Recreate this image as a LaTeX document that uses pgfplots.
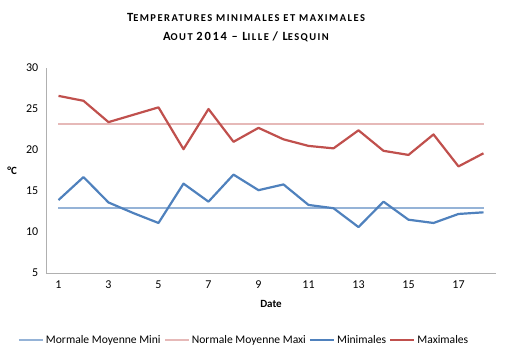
\documentclass[border=0pt]{standalone}
\usepackage{pgfplots}
\pgfplotsset{compat=1.18}
\usepackage{fontspec}
\setmainfont{Carlito}
\newfontfamily\titlefont[LetterSpace=14]{Carlito}
\definecolor{nmin}{HTML}{95B3D7}
\definecolor{nmax}{HTML}{E6B9B8}
\definecolor{cmin}{HTML}{4F81BD}
\definecolor{cmax}{HTML}{C0504D}
\definecolor{axgray}{HTML}{B0B0B0}
\newcommand{\bg}[1]{{\fontsize{12.5pt}{13pt}\selectfont #1}}
\newcommand{\sm}[1]{{\fontsize{10.5pt}{13pt}\selectfont #1}}
\begin{document}
\begin{tikzpicture}[x=1pt,y=1pt]
\useasboundingbox (-46,-81) rectangle (463,273);
\begin{axis}[
  at={(0,0)}, anchor=south west,
  scale only axis, width=450pt, height=205pt,
  xmin=0.5, xmax=18.5, ymin=5, ymax=30,
  axis x line=bottom, axis y line=left,
  axis line style={-, axgray, line width=0.8pt},
  xtick={1,3,...,17}, ytick={5,10,...,30},
  xtick style={draw=none}, ytick style={draw=none},
  minor xtick={0.5,1.5,...,18.5},
  minor x tick style={axgray, line width=0.8pt},
  minor tick length=5pt, tick align=outside,
  tick label style={font=\fontsize{12pt}{14pt}\selectfont},
  /pgf/number format/assume math mode=true,
  xlabel={\textbf{Date}},
  xlabel style={at={(axis description cs:0.5,0)}, anchor=north, yshift=-24pt, font=\fontsize{11pt}{12pt}\selectfont},
  ylabel={\textbf{°C}},
  ylabel style={rotate=-90, at={(axis description cs:-0.075,0.5)}, anchor=center, font=\fontsize{11pt}{12pt}\selectfont},
  legend columns=4,
  legend style={at={(0.44,-0.327)}, anchor=center, draw=none, fill=none,
    font=\fontsize{11.6pt}{14pt}\selectfont, nodes={inner xsep=2pt},
    /tikz/every even column/.append style={column sep=1pt}},
  legend image code/.code={\draw[#1] (0pt,0pt) -- (24pt,0pt);},
  every axis plot/.append style={line width=2.2pt, mark=none, line join=round},
]
\addplot[nmin] coordinates {(1,12.9) (18,12.9)};
\addlegendentry{Mormale Moyenne Mini}
\addplot[nmax] coordinates {(1,23.2) (18,23.2)};
\addlegendentry{Normale Moyenne Maxi}
\addplot[cmin] coordinates {
(1,13.9) (2,16.7) (3,13.6) (4,12.3) (5,11.1) (6,15.9) (7,13.7) (8,17.0) (9,15.1)
(10,15.8) (11,13.3) (12,12.9) (13,10.6) (14,13.7) (15,11.5) (16,11.1) (17,12.2) (18,12.4)};
\addlegendentry{Minimales}
\addplot[cmax] coordinates {
(1,26.6) (2,26.0) (3,23.4) (4,24.3) (5,25.2) (6,20.1) (7,25.0) (8,21.0) (9,22.7)
(10,21.3) (11,20.5) (12,20.2) (13,22.4) (14,19.9) (15,19.4) (16,21.9) (17,18.0) (18,19.6)};
\addlegendentry{Maximales}
\end{axis}
\node[font=\titlefont\bfseries] at (200,256) {\bg{T}\sm{EMPERATURES MINIMALES ET MAXIMALES}};
\node[font=\titlefont\bfseries] at (200,236) {\bg{A}\sm{OUT} \bg{2014 – L}\sm{ILLE} \bg{/ L}\sm{ESQUIN}};
\end{tikzpicture}
\end{document}
